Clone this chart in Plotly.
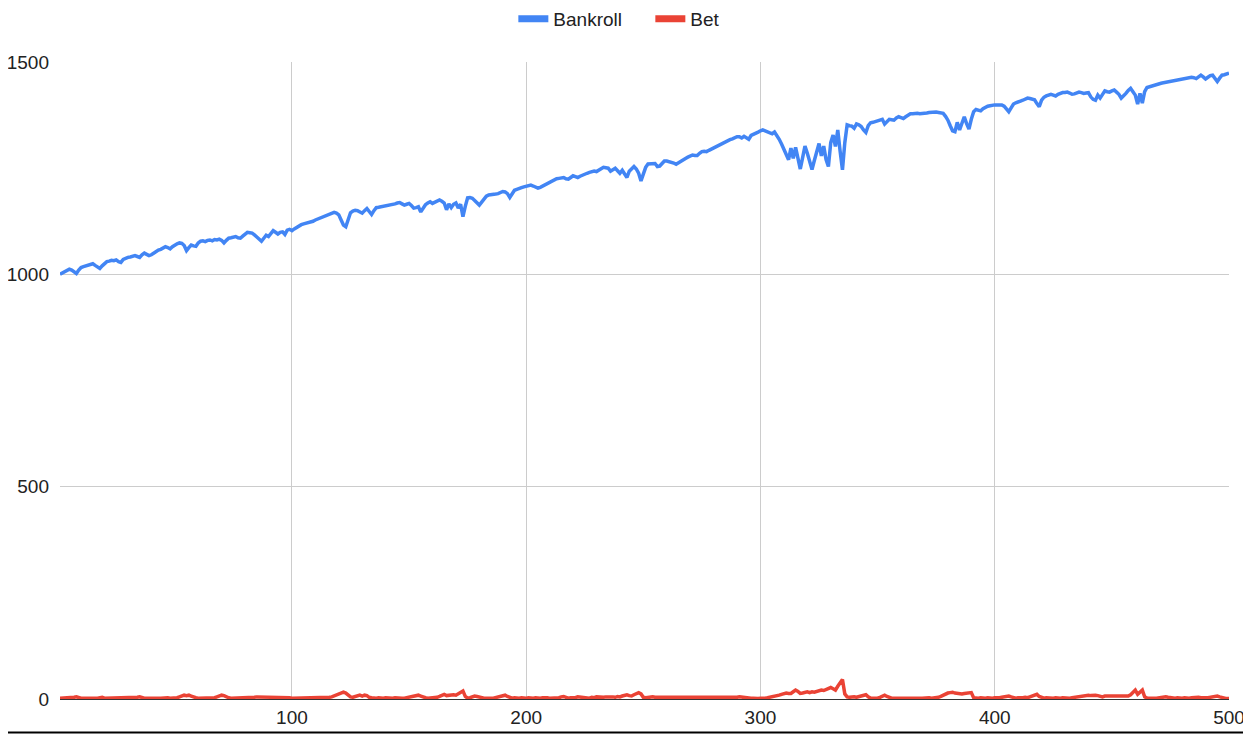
import plotly.graph_objects as go

steps = list(range(1, 501))

bankroll = [
    1000, 1003, 1006, 1009, 1012, 1010, 1006, 1002, 1010, 1016,
    1018, 1020, 1022, 1024, 1025, 1021, 1018, 1014, 1020, 1026,
    1030, 1031, 1033, 1032, 1034, 1030, 1028, 1035, 1038, 1040,
    1041, 1043, 1044, 1042, 1040, 1046, 1050, 1047, 1044, 1046,
    1050, 1054, 1057, 1059, 1062, 1065, 1063, 1060, 1065, 1069,
    1072, 1074, 1073, 1068, 1056, 1063, 1069, 1067, 1066, 1074,
    1078, 1079, 1077, 1080, 1081, 1079, 1082, 1081, 1083, 1080,
    1074, 1080, 1085, 1086, 1088, 1089, 1086, 1085, 1090, 1095,
    1099, 1098, 1097, 1093, 1088, 1083, 1078, 1085, 1092, 1089,
    1095, 1103, 1099, 1095, 1099, 1100, 1094, 1104, 1106, 1103,
    1107, 1111, 1114, 1117, 1119, 1120, 1122, 1124, 1125, 1128,
    1130, 1133, 1135, 1137, 1139, 1141, 1143, 1146, 1144, 1140,
    1128, 1116, 1112, 1128, 1145, 1149, 1151, 1150, 1146, 1144,
    1150, 1155, 1148, 1141, 1150, 1157, 1158, 1159, 1161, 1160,
    1161, 1162, 1164, 1166, 1168, 1169, 1166, 1163, 1165, 1167,
    1162, 1156, 1157, 1159, 1147, 1155, 1164, 1168, 1171, 1167,
    1169, 1172, 1175, 1172, 1168, 1152, 1166, 1157, 1165, 1168,
    1156, 1165, 1136, 1160, 1180, 1181, 1179, 1174, 1168, 1163,
    1170, 1177, 1184, 1187, 1187, 1188, 1189, 1190, 1192, 1195,
    1194, 1190, 1181, 1190, 1198, 1200, 1203, 1204, 1206, 1208,
    1209, 1210, 1208, 1205, 1203, 1205, 1208, 1210, 1213, 1217,
    1220, 1224, 1225, 1226, 1227, 1228, 1225, 1224, 1228, 1232,
    1230, 1228, 1231, 1234, 1236, 1238, 1240, 1242, 1243, 1242,
    1245, 1249, 1252, 1251, 1250, 1243, 1246, 1250, 1244, 1238,
    1245, 1236, 1228, 1243, 1250, 1254, 1248, 1238, 1220, 1238,
    1252, 1260, 1261, 1261, 1261, 1254, 1255, 1261, 1267, 1267,
    1266, 1265, 1262, 1259, 1263, 1267, 1271, 1273, 1276, 1279,
    1281, 1280, 1280, 1285, 1289, 1290, 1289, 1292, 1295, 1298,
    1300, 1303, 1306, 1309, 1311, 1314, 1317, 1319, 1322, 1324,
    1324, 1321, 1325, 1321, 1318, 1327, 1329, 1332, 1335, 1338,
    1340, 1338, 1336, 1332, 1331, 1335, 1327, 1318, 1307, 1295,
    1280, 1270, 1297, 1273, 1299, 1272, 1248, 1275, 1302, 1285,
    1262, 1247, 1268, 1290, 1308, 1279, 1302, 1270, 1254, 1310,
    1328, 1301, 1340, 1290, 1246, 1310, 1352, 1350, 1349, 1344,
    1354, 1352, 1348, 1340, 1334, 1350, 1357, 1358, 1360, 1362,
    1363, 1365, 1354, 1360, 1365, 1364, 1363, 1368, 1371, 1369,
    1367, 1371, 1375, 1378, 1378, 1379, 1379, 1378, 1378, 1380,
    1380, 1381, 1382, 1383, 1382, 1381, 1380, 1379, 1372, 1363,
    1350, 1338, 1336, 1358, 1340, 1356, 1371, 1355, 1342, 1365,
    1383, 1388, 1387, 1385, 1390, 1394, 1396, 1397, 1399, 1399,
    1399, 1399, 1399, 1396, 1390, 1383, 1392, 1401, 1404, 1407,
    1408, 1410, 1412, 1415, 1414, 1412, 1411, 1402, 1395, 1410,
    1417, 1420, 1422, 1424, 1422, 1420, 1424, 1427, 1428, 1428,
    1429, 1427, 1424, 1425, 1427, 1429, 1428, 1426, 1427, 1428,
    1418, 1412, 1410, 1422, 1415, 1424, 1432, 1430, 1429, 1432,
    1434, 1429, 1424, 1415, 1420, 1426, 1433, 1438, 1430, 1422,
    1401, 1426, 1403, 1430, 1440, 1442, 1443, 1445, 1447, 1449,
    1450, 1451, 1452, 1453, 1454, 1456, 1458, 1458, 1459, 1460,
    1461, 1462, 1463, 1464, 1463, 1461, 1465, 1469, 1465, 1460,
    1464, 1468, 1469, 1462, 1454, 1462, 1469, 1470, 1471, 1474,
]

bet = [
    2, 2, 3, 2, 2, 3, 4, 5, 3, 2,
    2, 3, 2, 2, 3, 2, 2, 3, 4, 2,
    2, 2, 3, 2, 2, 3, 2, 2, 3, 2,
    2, 3, 3, 4, 5, 3, 2, 2, 3, 2,
    2, 3, 2, 2, 3, 2, 3, 2, 2, 3,
    3, 5, 7, 9, 8, 9, 7, 4, 3, 2,
    2, 3, 2, 2, 3, 4, 3, 5, 7, 9,
    8, 5, 3, 2, 2, 3, 2, 2, 3, 2,
    3, 2, 3, 4, 5, 5, 4, 5, 5, 4,
    5, 5, 4, 5, 5, 4, 5, 4, 3, 2,
    2, 2, 3, 2, 2, 3, 2, 2, 3, 2,
    2, 3, 2, 2, 3, 4, 5, 7, 10, 13,
    15, 16, 14, 9, 5, 4, 6, 8, 9, 7,
    9, 8, 4, 3, 2, 2, 3, 2, 2, 3,
    2, 3, 2, 3, 2, 3, 2, 2, 3, 4,
    5, 6, 8, 9, 7, 4, 3, 2, 2, 3,
    3, 4, 6, 9, 11, 8, 9, 10, 10, 9,
    12, 16, 19, 6, 2, 3, 5, 7, 6, 4,
    3, 2, 2, 3, 2, 2, 3, 4, 6, 8,
    9, 6, 3, 2, 3, 2, 2, 3, 2, 2,
    3, 2, 2, 3, 2, 2, 3, 4, 3, 2,
    2, 3, 2, 3, 5, 6, 4, 2, 3, 2,
    3, 5, 4, 3, 2, 3, 2, 4, 3, 5,
    4, 3, 4, 5, 6, 5, 5, 4, 6, 5,
    7, 9, 10, 8, 7, 10, 13, 15, 12, 4,
    3, 4, 3, 5, 4, 4, 3, 4, 4, 2,
    3, 2, 2, 3, 2, 2, 3, 2, 2, 3,
    2, 2, 3, 2, 3, 2, 2, 3, 2, 2,
    3, 2, 2, 3, 2, 2, 3, 2, 3, 4,
    5, 4, 5, 4, 3, 2, 2, 1, 1, 2,
    1, 2, 3, 4, 5, 5, 6, 9, 11, 13,
    14, 13, 13, 17, 21, 18, 13, 14, 16, 17,
    15, 17, 16, 18, 20, 21, 20, 22, 24, 27,
    24, 21, 30, 37, 46, 12, 5, 4, 5, 5,
    4, 5, 6, 8, 10, 5, 2, 2, 1, 2,
    4, 7, 9, 6, 3, 2, 2, 3, 2, 2,
    3, 2, 2, 3, 2, 2, 3, 2, 2, 3,
    2, 3, 2, 2, 3, 4, 6, 9, 13, 14,
    15, 16, 14, 13, 13, 12, 13, 13, 14, 15,
    3, 2, 2, 3, 2, 2, 3, 2, 2, 3,
    2, 3, 4, 5, 6, 7, 5, 3, 2, 3,
    2, 3, 4, 3, 5, 7, 10, 11, 6, 3,
    2, 3, 2, 3, 2, 3, 2, 2, 3, 2,
    3, 2, 3, 4, 5, 6, 7, 8, 9, 9,
    8, 9, 9, 8, 6, 5, 7, 7, 6, 7,
    7, 6, 7, 7, 8, 7, 7, 10, 15, 21,
    11, 15, 21, 5, 2, 2, 3, 2, 2, 3,
    3, 4, 5, 4, 3, 2, 2, 3, 2, 2,
    3, 2, 2, 3, 4, 5, 4, 3, 2, 3,
    3, 4, 5, 6, 7, 5, 3, 2, 1, 1,
]

series_names = ["Bankroll", "Bet"]
series_colors = ["#4285F4", "#EA4335"]
x_ticks = [100, 200, 300, 400, 500]
y_ticks = [0, 500, 1000, 1500]

FONT = "Liberation Sans, Arial, sans-serif"

fig = go.Figure()
for name, vals, col in zip(series_names, [bankroll, bet], series_colors):
    fig.add_trace(go.Scatter(x=steps, y=vals, mode="lines", name=name,
                             showlegend=False, line=dict(color=col, width=3.5)))
# legend entries (thick short bars like the reference)
for name, col in zip(series_names, series_colors):
    fig.add_trace(go.Scatter(x=[None], y=[None], mode="lines", name=name,
                             showlegend=True, line=dict(color=col, width=7)))

# page body has an 8px default margin; figure sized to fit the 1251x734 window
fig.update_layout(
    width=1243, height=726,
    margin=dict(l=52, r=22, t=54, b=35),
    paper_bgcolor="white", plot_bgcolor="white",
    font=dict(family=FONT, size=19, color="#222222"),
    showlegend=True,
    legend=dict(orientation="h", x=0.505, xanchor="center",
                yref="container", y=0.985, yanchor="middle",
                font=dict(family=FONT, size=19, color="#222222"),
                itemwidth=30, tracegroupgap=0, bgcolor="rgba(0,0,0,0)",
                entrywidth=92, entrywidthmode="pixels"),
    xaxis=dict(range=[1, 500], tickvals=x_ticks, showgrid=True, gridcolor="#cccccc",
               gridwidth=1, zeroline=False, showline=False, ticks="",
               automargin=False, ticklabelstandoff=5,
               tickfont=dict(size=19, color="#222222")),
    yaxis=dict(range=[0, 1500], tickvals=y_ticks, showgrid=True, gridcolor="#cccccc",
               gridwidth=1, zeroline=True, zerolinecolor="#333333", zerolinewidth=1,
               showline=False, ticks="", ticklabelstandoff=10, automargin=False,
               tickfont=dict(size=19, color="#222222")),
    shapes=[
        dict(type="line", xref="paper", yref="paper", x0=-0.06, x1=1.02,
             y0=-0.0525, y1=-0.0525, line=dict(color="black", width=2)),
        dict(type="line", xref="paper", yref="paper", x0=1.0155, x1=1.0155,
             y0=-0.06, y1=1.1, line=dict(color="black", width=2)),
    ],
)

fig.write_html("out.html")
